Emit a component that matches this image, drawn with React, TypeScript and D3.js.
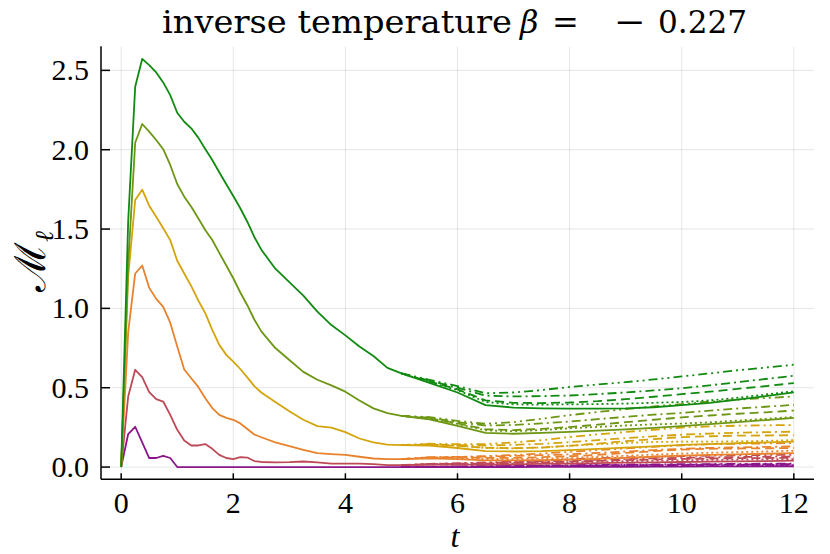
import React from "react";
import * as d3 from "d3";

// sample times (fine near the peak, coarser later)
const times = [
  0, 0.125, 0.25, 0.375, 0.5, 0.625, 0.75, 0.875, 1, 1.125, 1.25, 1.375, 1.5,
  1.625, 1.75, 1.875, 2, 2.125, 2.25, 2.375, 2.5, 2.75, 3, 3.25, 3.5, 3.75, 4,
  4.25, 4.5, 4.75, 5, 5.5, 6, 6.5, 7, 7.5, 8, 8.5, 9, 9.5, 10, 10.5, 11, 11.5,
  12,
];

const purple = [
  0, 0.208, 0.254, 0.155, 0.057, 0.057, 0.071, 0.057, 0, 0, 0, 0, 0, 0, 0, 0,
  0, 0, 0, 0, 0, 0, 0, 0, 0, 0, 0, 0, 0, 0, 0, 0, 0, 0, 0, 0.001, 0.001, 0.002,
  0.002, 0.003, 0.003, 0.004, 0.004, 0.005, 0.005,
];
const rose = [
  0, 0.445, 0.613, 0.567, 0.472, 0.428, 0.413, 0.329, 0.235, 0.168, 0.136,
  0.136, 0.145, 0.115, 0.077, 0.057, 0.05, 0.063, 0.06, 0.038, 0.032, 0.03,
  0.031, 0.035, 0.03, 0.022, 0.021, 0.021, 0.018, 0.012, 0.012, 0.015, 0.015,
  0.015, 0.017, 0.02, 0.022, 0.025, 0.028, 0.03, 0.032, 0.034, 0.036, 0.038,
  0.04,
];
const orange = [
  0, 0.85, 1.22, 1.27, 1.13, 1.06, 1.01, 0.91, 0.76, 0.615, 0.56, 0.505, 0.434,
  0.372, 0.329, 0.31, 0.298, 0.275, 0.24, 0.205, 0.188, 0.155, 0.132, 0.109,
  0.088, 0.082, 0.077, 0.065, 0.054, 0.05, 0.05, 0.055, 0.05, 0.042, 0.042,
  0.044, 0.047, 0.052, 0.058, 0.065, 0.072, 0.077, 0.08, 0.084, 0.088,
];
const gold = [
  0, 1.2, 1.683, 1.748, 1.647, 1.578, 1.505, 1.43, 1.3, 1.22, 1.14, 1.05, 0.97,
  0.865, 0.77, 0.707, 0.665, 0.618, 0.565, 0.51, 0.47, 0.41, 0.352, 0.298,
  0.258, 0.248, 0.22, 0.18, 0.155, 0.142, 0.138, 0.135, 0.12, 0.1, 0.098, 0.1,
  0.107, 0.115, 0.122, 0.13, 0.14, 0.145, 0.15, 0.155, 0.16,
];
const olive = [
  0, 1.28, 2.044, 2.162, 2.114, 2.061, 2.003, 1.904, 1.784, 1.704, 1.641,
  1.568, 1.494, 1.431, 1.35, 1.27, 1.19, 1.1, 1.02, 0.93, 0.855, 0.75, 0.675,
  0.6, 0.55, 0.515, 0.475, 0.42, 0.37, 0.34, 0.322, 0.3, 0.26, 0.215, 0.21,
  0.215, 0.222, 0.23, 0.238, 0.247, 0.258, 0.27, 0.283, 0.296, 0.31,
];
const green = [
  0, 1.55, 2.397, 2.572, 2.533, 2.487, 2.424, 2.344, 2.233, 2.176, 2.135,
  2.076, 2.004, 1.935, 1.858, 1.782, 1.708, 1.631, 1.546, 1.45, 1.37, 1.25,
  1.165, 1.08, 0.98, 0.895, 0.83, 0.76, 0.7, 0.625, 0.59, 0.53, 0.47, 0.39,
  0.375, 0.37, 0.368, 0.368, 0.37, 0.377, 0.39, 0.405, 0.425, 0.447, 0.47,
];

// the other runs split off from the solid ones after t = 5
const lateTimes = [5, 5.5, 6, 6.5, 7, 7.5, 8, 8.5, 9, 9.5, 10, 10.5, 11, 11.5, 12];

const purpleDot = [0, 0.001, 0.002, 0.003, 0.004, 0.005, 0.006, 0.007, 0.008, 0.009, 0.01, 0.01, 0.011, 0.011, 0.012];
const purpleDash = [0, 0.001, 0.002, 0.004, 0.005, 0.006, 0.008, 0.009, 0.01, 0.011, 0.012, 0.013, 0.014, 0.014, 0.015];
const purpleDashDot = [0, 0.002, 0.003, 0.005, 0.007, 0.008, 0.01, 0.011, 0.013, 0.014, 0.015, 0.016, 0.017, 0.018, 0.018];
const purpleDashDotDot = [0, 0.002, 0.004, 0.006, 0.008, 0.01, 0.012, 0.014, 0.016, 0.017, 0.018, 0.019, 0.02, 0.021, 0.022];

const roseDot = [0.012, 0.017, 0.018, 0.019, 0.022, 0.026, 0.029, 0.033, 0.037, 0.04, 0.043, 0.045, 0.047, 0.049, 0.05];
const roseDash = [0.012, 0.018, 0.02, 0.022, 0.026, 0.03, 0.034, 0.039, 0.044, 0.048, 0.051, 0.054, 0.056, 0.057, 0.058];
const roseDashDot = [0.012, 0.019, 0.022, 0.026, 0.031, 0.036, 0.041, 0.046, 0.051, 0.055, 0.058, 0.061, 0.063, 0.065, 0.066];
const roseDashDotDot = [0.012, 0.02, 0.024, 0.029, 0.035, 0.042, 0.049, 0.055, 0.06, 0.065, 0.069, 0.072, 0.074, 0.076, 0.077];

const orangeDot = [0.05, 0.057, 0.056, 0.05, 0.05, 0.053, 0.058, 0.064, 0.071, 0.078, 0.085, 0.09, 0.094, 0.098, 0.103];
const orangeDash = [0.05, 0.06, 0.061, 0.058, 0.058, 0.062, 0.068, 0.077, 0.089, 0.1, 0.11, 0.115, 0.117, 0.118, 0.12];
const orangeDashDot = [0.05, 0.061, 0.062, 0.066, 0.07, 0.075, 0.08, 0.089, 0.098, 0.107, 0.115, 0.121, 0.124, 0.127, 0.13];
const orangeDashDotDot = [0.05, 0.062, 0.064, 0.069, 0.076, 0.085, 0.096, 0.107, 0.117, 0.128, 0.137, 0.144, 0.147, 0.149, 0.151];

const goldDot = [0.138, 0.14, 0.135, 0.12, 0.118, 0.123, 0.134, 0.144, 0.152, 0.158, 0.16, 0.16, 0.162, 0.165, 0.17];
const goldDash = [0.138, 0.142, 0.134, 0.121, 0.119, 0.123, 0.134, 0.148, 0.163, 0.176, 0.189, 0.194, 0.198, 0.199, 0.201];
const goldDashDot = [0.138, 0.144, 0.138, 0.136, 0.14, 0.146, 0.157, 0.17, 0.182, 0.194, 0.204, 0.211, 0.216, 0.22, 0.223];
const goldDashDotDot = [0.138, 0.147, 0.144, 0.145, 0.155, 0.169, 0.189, 0.206, 0.221, 0.235, 0.249, 0.256, 0.261, 0.263, 0.265];

const oliveDot = [0.322, 0.304, 0.272, 0.231, 0.226, 0.233, 0.244, 0.253, 0.262, 0.269, 0.274, 0.282, 0.293, 0.304, 0.316];
const oliveDash = [0.322, 0.308, 0.276, 0.238, 0.233, 0.241, 0.252, 0.267, 0.283, 0.298, 0.313, 0.325, 0.336, 0.345, 0.356];
const oliveDashDot = [0.322, 0.312, 0.283, 0.262, 0.265, 0.275, 0.287, 0.302, 0.316, 0.33, 0.341, 0.356, 0.369, 0.38, 0.392];
const oliveDashDotDot = [0.322, 0.315, 0.291, 0.273, 0.283, 0.304, 0.327, 0.347, 0.365, 0.382, 0.397, 0.412, 0.425, 0.435, 0.445];

const greenDot = [0.59, 0.535, 0.485, 0.41, 0.395, 0.393, 0.395, 0.397, 0.4, 0.405, 0.41, 0.42, 0.437, 0.457, 0.478];
const greenDash = [0.59, 0.54, 0.49, 0.42, 0.405, 0.403, 0.407, 0.415, 0.428, 0.443, 0.46, 0.475, 0.493, 0.51, 0.529];
const greenDashDot = [0.59, 0.545, 0.5, 0.45, 0.445, 0.447, 0.451, 0.46, 0.47, 0.483, 0.497, 0.515, 0.535, 0.555, 0.575];
const greenDashDotDot = [0.59, 0.55, 0.51, 0.465, 0.47, 0.485, 0.505, 0.52, 0.535, 0.552, 0.571, 0.59, 0.61, 0.627, 0.645];

const xTicks = [0, 2, 4, 6, 8, 10, 12];
const yTicks = [0, 0.5, 1, 1.5, 2, 2.5];
const yTickLabels = ["0.0", "0.5", "1.0", "1.5", "2.0", "2.5"];

const colors = ["#8b168b", "#bd4a56", "#e8822c", "#d4a40c", "#6c9613", "#118a11"];
const solids = [purple, rose, orange, gold, olive, green];
const variants = [
  [purpleDot, purpleDash, purpleDashDot, purpleDashDotDot],
  [roseDot, roseDash, roseDashDot, roseDashDotDot],
  [orangeDot, orangeDash, orangeDashDot, orangeDashDotDot],
  [goldDot, goldDash, goldDashDot, goldDashDotDot],
  [oliveDot, oliveDash, oliveDashDot, oliveDashDotDot],
  [greenDot, greenDash, greenDashDot, greenDashDotDot],
];
const dashes = ["2 3", "9 5", "9 4 2 4", "9 4 2 4 2 4"];

const width = 830;
const height = 554;
const left = 101;
const right = 814;
const top = 46.7;
const bottom = 479.3;
const tickFont = "Liberation Serif";
const titleFont = "DejaVu Serif";

export default function App() {
  const ymax = d3.max(green) as number;
  const x = d3.scaleLinear().domain([-0.36, 12.36]).range([left, right]);
  const y = d3
    .scaleLinear()
    .domain([-0.03 * ymax, ymax * 1.03])
    .range([bottom, top]);

  const line = d3
    .line<[number, number]>()
    .x((d) => x(d[0]))
    .y((d) => y(d[1]));

  const zipWith = (ts: number[], vs: number[]) =>
    ts.map((t, i) => [t, vs[i]] as [number, number]);

  return (
    <div style={{ position: "absolute", left: 0, top: 0 }}>
      <svg width={width} height={height} style={{ display: "block", background: "#fff" }}>
        {/* grid */}
        <g stroke="#000" strokeOpacity={0.1} strokeWidth={1}>
          {xTicks.map((t) => (
            <line key={"gx" + t} x1={x(t)} x2={x(t)} y1={top} y2={bottom} />
          ))}
          {yTicks.map((t) => (
            <line key={"gy" + t} x1={left} x2={right} y1={y(t)} y2={y(t)} />
          ))}
        </g>

        {/* series */}
        <g fill="none" strokeWidth={1.8} strokeLinejoin="round">
          {solids.map((s, i) => (
            <g key={"s" + i} stroke={colors[i]}>
              {variants[i].map((v, j) => (
                <path key={j} d={line(zipWith(lateTimes, v)) || ""} strokeDasharray={dashes[j]} />
              ))}
              <path d={line(zipWith(times, s)) || ""} />
            </g>
          ))}
        </g>

        {/* axes */}
        <g stroke="#000" strokeWidth={1.5}>
          <line x1={left} x2={left} y1={top - 0.5} y2={bottom} />
          <line x1={left} x2={right} y1={bottom} y2={bottom} />
          {xTicks.map((t) => (
            <line key={"tx" + t} x1={x(t)} x2={x(t)} y1={bottom} y2={bottom - 6} />
          ))}
          {yTicks.map((t) => (
            <line key={"ty" + t} x1={left} x2={left + 9} y1={y(t)} y2={y(t)} />
          ))}
        </g>

        <g style={{ fontFamily: tickFont }} fontSize={30} fill="#000">
          {xTicks.map((t) => (
            <text key={"lx" + t} x={x(t)} y={513} textAnchor="middle">
              {String(t)}
            </text>
          ))}
          {yTicks.map((t, i) => (
            <text key={"ly" + t} x={89} y={y(t) + 10} textAnchor="end">
              {yTickLabels[i]}
            </text>
          ))}
        </g>

        {/* title */}
        <g style={{ fontFamily: titleFont }} fontSize={32} fill="#000">
          <text x={162} y={33} textLength={350} lengthAdjust="spacingAndGlyphs">
            inverse temperature
          </text>
          <text x={520} y={33} fontStyle="italic">β</text>
          <text x={552} y={33}>=</text>
          <text x={614} y={33} textLength={32} lengthAdjust="spacingAndGlyphs">−</text>
          <text x={658} y={33} textLength={89} lengthAdjust="spacingAndGlyphs">
            0.227
          </text>
        </g>

        {/* axis labels */}
        <text x={455} y={547} textAnchor="middle" style={{ fontFamily: tickFont }} fontSize={32} fontStyle="italic">
          t
        </text>
        <text transform="translate(45,292) rotate(-90)" style={{ fontFamily: tickFont }} fontSize={43}>
          ℳ<tspan fontSize={26} dy={8} fontStyle="italic">ℓ</tspan>
        </text>
      </svg>
    </div>
  );
}
